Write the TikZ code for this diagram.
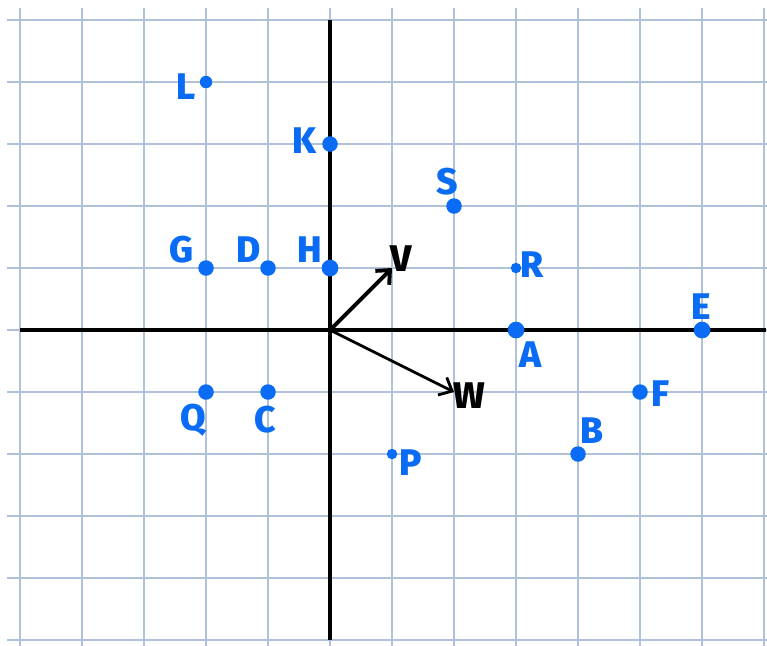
\documentclass[tikz,border=0pt]{standalone}
\usepackage{fontspec}
\setmainfont{Fira Sans}[BoldFont={Fira Sans ExtraBold}]
\usetikzlibrary{arrows.meta}
\definecolor{gridblue}{RGB}{176,194,218}
\definecolor{ptblue}{RGB}{10,108,245}
\tikzset{
  gridline/.style={draw=gridblue, line width=0.95pt},
  axisline/.style={draw=black, line width=2.1pt},
  bigdot/.style={circle, fill=ptblue, inner sep=0pt, minimum size=0.25cm},
  smalldot/.style={circle, fill=ptblue, inner sep=0pt, minimum size=0.17cm},
  ptlabel/.style={text=ptblue, font=\fontsize{17}{17}\selectfont\bfseries, inner sep=0pt},
  veclabel/.style={text=black, font=\fontsize{17}{17}\selectfont\bfseries, inner sep=0pt},
  vecarrow/.style={draw=black, -{Straight Barb[length=5pt,width=9pt]}},
}
\begin{document}
\begin{tikzpicture}
\useasboundingbox (-5.323,-5.081) rectangle (7.048,5.323);
% grid
\foreach \x in {-5,...,7} \draw[gridline] (\x,-5.1) -- (\x,5.19);
\foreach \y in {-5,...,5} \draw[gridline] (-5.21,\y) -- (7.06,\y);
% axes
\coordinate (xl) at (-5,0);
\coordinate (xr) at (7.03,0);
\coordinate (yt) at (0,5);
\coordinate (yb) at (0,-5);
\draw[axisline] (xl) -- (xr);
\draw[axisline] (yb) -- (yt);
% vectors
\coordinate (O) at (0,0);
\coordinate (vtip) at (1,1);
\coordinate (wtip) at (2,-1);
\draw[vecarrow, line width=1.8pt] (O) -- (vtip);
\draw[vecarrow, line width=1.3pt] (O) -- (wtip);
\node[veclabel] (vlab) at (1.14,1.15) {V};
\node[veclabel] (wlab) at (2.24,-1.06) {W};
% points
\node[smalldot, minimum size=0.2cm] (L) at (-2,4) {};
\node[bigdot] (K) at (0,3) {};
\node[bigdot] (S) at (2,2) {};
\node[bigdot] (G) at (-2,1) {};
\node[bigdot] (D) at (-1,1) {};
\node[bigdot, minimum size=0.27cm] (H) at (0,1) {};
\node[smalldot] (R) at (3,1) {};
\node[bigdot, minimum size=0.27cm] (A) at (3,0) {};
\node[bigdot, minimum size=0.27cm] (E) at (6,0) {};
\node[bigdot] (F) at (5,-1) {};
\node[bigdot] (Q) at (-2,-1) {};
\node[bigdot] (C) at (-1,-1) {};
\node[bigdot] (B) at (4,-2) {};
\node[smalldot] (P) at (1,-2) {};
% labels
\node[ptlabel] (Llab) at (-2.32,3.92) {L};
\node[ptlabel] (Klab) at (-0.42,3.05) {K};
\node[ptlabel] (Slab) at (1.89,2.40) {S};
\node[ptlabel] (Glab) at (-2.40,1.29) {G};
\node[ptlabel] (Dlab) at (-1.32,1.29) {D};
\node[ptlabel] (Hlab) at (-0.32,1.29) {H};
\node[ptlabel] (Rlab) at (3.25,1.05) {R};
\node[ptlabel] (Alab) at (3.23,-0.40) {A};
\node[ptlabel] (Elab) at (5.98,0.37) {E};
\node[ptlabel] (Flab) at (5.33,-1.02) {F};
\node[ptlabel] (Qlab) at (-2.21,-1.45) {Q};
\node[ptlabel] (Clab) at (-1.05,-1.45) {C};
\node[ptlabel] (Blab) at (4.22,-1.62) {B};
\node[ptlabel] (Plab) at (1.30,-2.14) {P};
\end{tikzpicture}
\end{document}
